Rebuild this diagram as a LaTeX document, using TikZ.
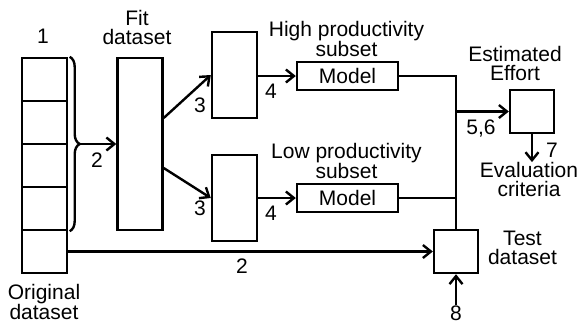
\documentclass[tikz,border=0pt]{standalone}
\usepackage{fontspec}
\setmainfont{Liberation Sans}
\usetikzlibrary{arrows.meta,decorations.pathreplacing}
\tikzset{
  cellbox/.style={rectangle, draw=black, line width=2.4pt, fill=white, inner sep=0pt, minimum width=#1},
  cellbox/.default=45pt,
  modelbox/.style={rectangle, draw=black, line width=2.4pt, fill=white, inner sep=0pt, minimum width=101pt, minimum height=28pt},
  txt/.style={align=center, inner sep=0pt, font=\fontsize{21}{19}\selectfont},
  flowarrow/.style={-{Straight Barb[length=8pt,width=13pt,line width=2.4pt]}, line width=2.4pt},
  flowline/.style={line width=2.4pt},
}
\begin{document}
\begin{tikzpicture}[x=1pt,y=-1pt]
  \useasboundingbox (0,0) rectangle (581,325);
  % original dataset column
  \foreach \i/\y in {1/79.5,2/122.5,3/165.5,4/208.5,5/251.5} {
    \node[cellbox, minimum height=43pt] (cell\i) at (44.5,\y) {};
  }
  \node[txt] (lbl1) at (43,36) {1};
  \node[txt] (orig) at (44,302) {Original\\dataset};

  \node[cellbox, minimum height=172pt] (fit) at (140,144) {};
  \node[txt] (fittxt) at (137,27) {Fit\\dataset};

  \node[cellbox, minimum height=86pt] (hi) at (234.5,75) {};
  \node[cellbox, minimum height=86pt] (lo) at (234.5,198) {};
  \node[modelbox, txt] (himodel) at (347.5,76) {Model};
  \node[modelbox, txt] (lomodel) at (347.5,198) {Model};
  \node[txt] (hitxt) at (346.5,39) {High productivity\\subset};
  \node[txt] (lotxt) at (346.5,161) {Low productivity\\subset};

  \node[cellbox=44pt, minimum height=43pt] (est) at (532,111.5) {};
  \node[txt] (esttxt) at (515,63) {Estimated\\Effort};
  \node[txt] (evaltxt) at (529,179.5) {Evaluation\\criteria};

  \node[cellbox=44pt, minimum height=43pt] (test) at (456,251.5) {};
  \node[txt] (testtxt) at (522.5,248) {Test\\dataset};
  \node[txt] (lbl8) at (456,313) {8};

  % brace and split
  \draw[flowline, decorate, decoration={brace, amplitude=10pt}] ([xshift=1.5pt]cell1.north east) -- ([xshift=1.5pt]cell4.south east);
  \coordinate (brtip) at (80,144);
  \draw[flowarrow] (brtip) -- (fit.west);
  \node[txt] (lbl2a) at (97,160) {2};
  \draw[flowarrow] (cell5.east) -- (test.west);
  \node[txt] (lbl2b) at (242,266) {2};

  \draw[flowarrow] ([yshift=26pt]fit.east) -- (hi.west);
  \draw[flowarrow] ([yshift=-24pt]fit.east) -- (lo.west);
  \node[txt] (lbl3a) at (200,105) {3};
  \node[txt] (lbl3b) at (200,208) {3};

  \draw[flowarrow] (hi.east |- himodel.west) -- (himodel.west);
  \draw[flowarrow] (lo.east |- lomodel.west) -- (lomodel.west);
  \node[txt] (lbl4a) at (271,91) {4};
  \node[txt] (lbl4b) at (271,213) {4};

  \draw[flowline] (himodel.east) -| (test.north);
  \draw[flowline] (lomodel.east) -- (lomodel.east -| test.north);
  \draw[flowarrow] (test.north |- est.west) -- (est.west);
  \node[txt] (lbl56) at (481,129) {5,6};

  \draw[flowarrow] (est.south) -- (est.south |- evaltxt.north);
  \node[txt] (lbl7) at (552,150) {7};
  \draw[flowarrow] (lbl8.north) -- (test.south);
\end{tikzpicture}
\end{document}
